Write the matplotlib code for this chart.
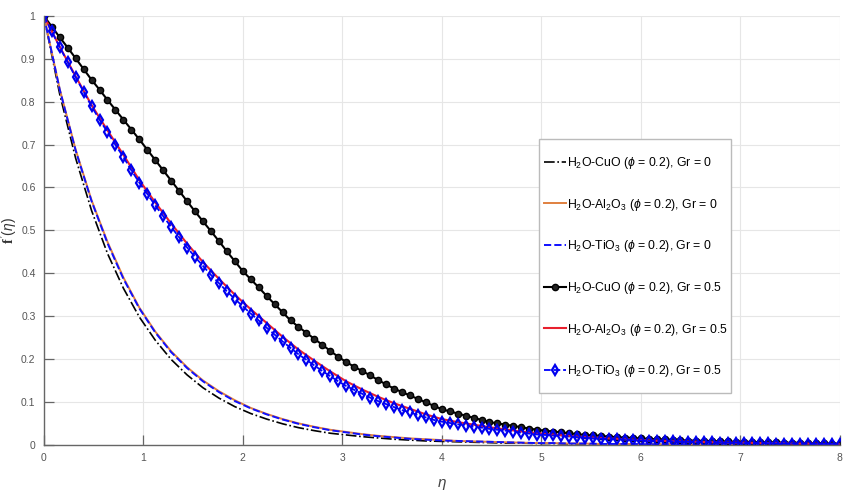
import numpy as np
import matplotlib
matplotlib.use("Agg")
import matplotlib.pyplot as plt
from matplotlib.patches import Rectangle
from matplotlib.ticker import FuncFormatter

plt.rcParams['font.family'] = ['Liberation Sans', 'DejaVu Sans']
plt.rcParams['mathtext.fontset'] = 'custom'
plt.rcParams['mathtext.rm'] = 'Liberation Sans'
plt.rcParams['mathtext.it'] = 'Liberation Sans:italic'
plt.rcParams['mathtext.bf'] = 'Liberation Serif:bold'

# eta grids: markers every 0.08, plain lines every 0.16
eta_fine = np.round(np.arange(101) * 0.08, 2)
eta_coarse = np.round(np.arange(51) * 0.16, 2)

# Gr = 0 (plain lines, eta_coarse)
cuo_gr0 = [1.000, 0.817, 0.668, 0.546, 0.446, 0.365, 0.298, 0.244, 0.199, 0.163,
           0.133, 0.109, 0.089, 0.073, 0.060, 0.049, 0.040, 0.033, 0.027, 0.023,
           0.019, 0.016, 0.013, 0.011, 0.009, 0.008, 0.007, 0.006, 0.005, 0.004,
           0.004, 0.003, 0.003, 0.002, 0.002, 0.002, 0.001, 0.001, 0.001, 0.001,
           0.001, 0.001, 0.000, 0.000, 0.000, 0.000, 0.000, 0.000, 0.000, 0.000, 0.000]
al_gr0 = [1.000, 0.829, 0.688, 0.570, 0.473, 0.390, 0.320, 0.264, 0.218, 0.181,
          0.150, 0.125, 0.104, 0.086, 0.072, 0.060, 0.050, 0.042, 0.035, 0.030,
          0.025, 0.021, 0.018, 0.015, 0.013, 0.011, 0.009, 0.008, 0.007, 0.006,
          0.005, 0.004, 0.004, 0.003, 0.003, 0.002, 0.002, 0.002, 0.001, 0.001,
          0.001, 0.001, 0.001, 0.001, 0.000, 0.000, 0.000, 0.000, 0.000, 0.000, 0.000]
ti_gr0 = [1.000, 0.828, 0.686, 0.568, 0.470, 0.387, 0.318, 0.262, 0.216, 0.179,
          0.148, 0.123, 0.102, 0.085, 0.071, 0.059, 0.049, 0.041, 0.034, 0.029,
          0.024, 0.020, 0.017, 0.014, 0.012, 0.010, 0.009, 0.008, 0.007, 0.006,
          0.005, 0.004, 0.004, 0.003, 0.003, 0.002, 0.002, 0.002, 0.001, 0.001,
          0.001, 0.001, 0.001, 0.001, 0.000, 0.000, 0.000, 0.000, 0.000, 0.000, 0.000]

# Gr = 0.5
al_gr05 = [1.000, 0.928, 0.859, 0.792, 0.733, 0.676, 0.617, 0.565, 0.516, 0.469,
           0.426, 0.387, 0.350, 0.316, 0.284, 0.252, 0.222, 0.196, 0.171, 0.148,
           0.129, 0.112, 0.097, 0.084, 0.071, 0.060, 0.053, 0.047, 0.041, 0.036,
           0.031, 0.027, 0.024, 0.021, 0.018, 0.016, 0.014, 0.012, 0.010, 0.009,
           0.008, 0.007, 0.006, 0.005, 0.005, 0.004, 0.004, 0.003, 0.003, 0.002, 0.002]
cuo_gr05 = [1.000, 0.975, 0.950, 0.926, 0.901, 0.876, 0.851, 0.828, 0.804, 0.781,
            0.758, 0.735, 0.712, 0.688, 0.664, 0.640, 0.616, 0.592, 0.568, 0.544,
            0.521, 0.498, 0.475, 0.451, 0.428, 0.405, 0.386, 0.367, 0.347, 0.328,
            0.309, 0.290, 0.275, 0.261, 0.247, 0.233, 0.219, 0.205, 0.193, 0.182,
            0.172, 0.162, 0.151, 0.141, 0.131, 0.123, 0.115, 0.107, 0.099, 0.091,
            0.083, 0.078, 0.073, 0.068, 0.063, 0.058, 0.053, 0.050, 0.047, 0.044,
            0.041, 0.038, 0.035, 0.033, 0.031, 0.029, 0.027, 0.025, 0.023, 0.022,
            0.021, 0.019, 0.018, 0.017, 0.016, 0.015, 0.014, 0.013, 0.013, 0.012,
            0.011, 0.010, 0.010, 0.009, 0.009, 0.008, 0.008, 0.007, 0.007, 0.007,
            0.006, 0.006, 0.006, 0.005, 0.005, 0.005, 0.004, 0.004, 0.004, 0.003, 0.003]
ti_gr05 = [1.000, 0.964, 0.927, 0.892, 0.857, 0.823, 0.789, 0.758, 0.729, 0.699,
           0.671, 0.640, 0.611, 0.585, 0.558, 0.533, 0.508, 0.484, 0.460, 0.438,
           0.417, 0.396, 0.377, 0.358, 0.340, 0.323, 0.306, 0.290, 0.273, 0.257,
           0.241, 0.226, 0.211, 0.198, 0.185, 0.172, 0.160, 0.148, 0.137, 0.128,
           0.119, 0.110, 0.102, 0.095, 0.088, 0.081, 0.076, 0.069, 0.064, 0.058,
           0.054, 0.051, 0.048, 0.045, 0.042, 0.040, 0.037, 0.035, 0.033, 0.031,
           0.028, 0.026, 0.024, 0.023, 0.022, 0.020, 0.019, 0.018, 0.016, 0.015,
           0.014, 0.013, 0.013, 0.012, 0.011, 0.010, 0.009, 0.009, 0.008, 0.008,
           0.007, 0.007, 0.006, 0.006, 0.006, 0.005, 0.005, 0.005, 0.004, 0.004,
           0.004, 0.004, 0.003, 0.003, 0.003, 0.003, 0.003, 0.002, 0.002, 0.002, 0.002]

labels = [
    r"H$_2$O-CuO ($\phi$ = 0.2), Gr = 0",
    r"H$_2$O-Al$_2$O$_3$ ($\phi$ = 0.2), Gr = 0",
    r"H$_2$O-TiO$_3$ ($\phi$ = 0.2), Gr = 0",
    r"H$_2$O-CuO ($\phi$ = 0.2), Gr = 0.5",
    r"H$_2$O-Al$_2$O$_3$ ($\phi$ = 0.2), Gr = 0.5",
    r"H$_2$O-TiO$_3$ ($\phi$ = 0.2), Gr = 0.5",
]

fig = plt.figure(figsize=(8.43, 4.97), dpi=100)
ax = fig.add_axes([0.052, 0.105, 0.944, 0.863])

ax.plot(eta_coarse, cuo_gr0, color="black", ls="-.", lw=1.2, label=labels[0])
ax.plot(eta_coarse, al_gr0, color="#e0803f", ls="-", lw=1.4, label=labels[1])
ax.plot(eta_coarse, ti_gr0, color="#1010ff", ls="--", lw=1.4, label=labels[2])
ax.plot(eta_fine, cuo_gr05, color="black", ls="-", lw=1.5, marker="o",
        ms=4.5, mfc="#222222", mec="black", label=labels[3])
ax.plot(eta_coarse, al_gr05, color="#e8202e", ls="-", lw=1.5, label=labels[4])
ax.plot(eta_fine, ti_gr05, color="#0000ff", ls="--", lw=1.3, marker="d",
        ms=5.5, mfc="none", mec="#0000ee", mew=1.6, label=labels[5])

ax.set_xlim(0, 8)
ax.set_ylim(0, 1)
ax.set_xticks(range(0, 9))
ax.set_yticks(np.arange(0, 1.01, 0.1))
ax.yaxis.set_major_formatter(FuncFormatter(lambda v, p: "%g" % round(v, 1)))
ax.grid(True, color="#e6e6e6", lw=0.8)
ax.set_axisbelow(True)
for s in ["top", "right"]:
    ax.spines[s].set_visible(False)
for s in ["left", "bottom"]:
    ax.spines[s].set_color("#666666")
    ax.spines[s].set_linewidth(1.0)
ax.tick_params(direction="in", length=7, width=0.9, color="#666666",
               labelcolor="#555555", labelsize=7.5, pad=6)

ax.set_xlabel(r"$\eta$", fontsize=11, color="#444444", labelpad=10)
ax.set_ylabel(r"$\mathbf{f}\,'(\eta)$", fontsize=10, color="#333333")
ax.yaxis.set_label_coords(-0.030, 0.5)

# legend frame drawn separately so the padding can differ per side
frame = Rectangle((0.622, 0.121), 0.242, 0.592, transform=ax.transAxes,
                  facecolor="white", edgecolor="#bbbbbb", lw=1.0, zorder=4)
ax.add_patch(frame)
leg = ax.legend(loc="upper left", bbox_to_anchor=(0.628, 0.676), borderaxespad=0,
                fontsize=8.8, labelspacing=2.1, handlelength=1.8, handletextpad=0.15,
                borderpad=0, frameon=False)
leg.set_zorder(5)

fig.savefig("out.png", dpi=100)
